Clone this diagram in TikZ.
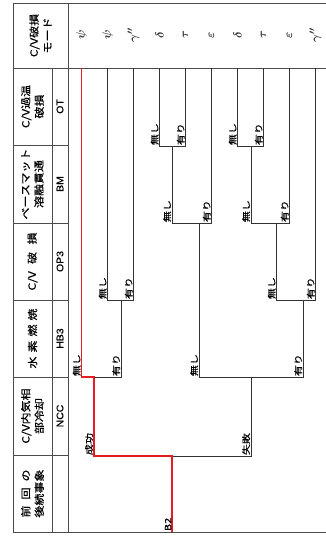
\documentclass[tikz,border=0pt]{standalone}
\usepackage{fontspec}
\setmainfont{Noto Sans CJK JP}
\newfontfamily\jp[FakeStretch=1.2,FakeBold=0.6]{Noto Sans CJK JP}
\newfontfamily\jplab[FakeStretch=1.3,FakeBold=0.4]{Noto Sans CJK JP}
\newfontfamily\lat[FakeStretch=1.1,FakeBold=0.5]{Liberation Sans}
\newcommand{\spreadtxt}[2]{\makebox[#1][s]{#2}}
\begin{document}
\begin{tikzpicture}[x=1pt,y=-1pt,
  grid/.style={draw=black!70, line width=1pt},
  tree/.style={draw=black!80, line width=0.8pt},
  redpath/.style={draw={rgb,255:red,228;green,28;blue,36}, line width=1.9pt, line join=miter},
  hdr/.style={rotate=90, font=\jp\fontsize{10}{13.5}\selectfont, align=center, inner sep=0pt},
  codetxt/.style={rotate=90, font=\lat\fontsize{9.5}{10}\selectfont, inner sep=0pt},
  lab/.style={rotate=90, anchor=south west, font=\jplab\fontsize{8.5}{8.5}\selectfont, inner sep=0.7pt},
  modetxt/.style={rotate=90, font=\boldmath\fontsize{13}{13}\selectfont, inner sep=0pt, text=black!80}]
\useasboundingbox (0,0) rectangle (326,539);
% table
\draw[grid] (326,3) -- (13,3) -- (13,532) -- (326,532);
\draw[grid] (68,3) -- (68,532);
\draw[grid] (13,68) -- (326,68);
\draw[grid] (52,68) -- (52,532);
\foreach \yy in {145,223,300,377,455} \draw[grid] (13,\yy) -- (68,\yy);
% headers
\node[hdr] (hMode) at (40.5,35.5) {C/V破損\\モード};
\node[hdr] (hOT) at (32.5,106.5) {C/V過温\\破損};
\node[hdr] (hBM) at (32.5,184) {ベースマット\\溶融貫通};
\node[hdr] (hOP) at (32.5,261.5) {\spreadtxt{58pt}{C/V\hfill 破\hfill 損}};
\node[hdr] (hHB) at (32.5,338.5) {\spreadtxt{60pt}{水\hfill 素\hfill 燃\hfill 焼}};
\node[hdr] (hNCC) at (32.5,416) {C/V内気相\\部冷却};
\node[hdr] (hPrev) at (32.5,493.5) {\spreadtxt{48pt}{前\hfill 回\hfill の}\\\spreadtxt{48pt}{後\hfill 続\hfill 事\hfill 象}};
\node[codetxt] (cOT) at (60,106.5) {OT};
\node[codetxt] (cBM) at (60,184) {BM};
\node[codetxt] (cOP) at (60,261.5) {OP3};
\node[codetxt] (cHB) at (60,338.5) {HB3};
\node[codetxt] (cNCC) at (60,416) {NCC};
% tree coordinates
\coordinate (b2) at (172,532);
\coordinate (ncc) at (172,456);
\coordinate (nccS) at (94,456);  \coordinate (nccF) at (251,456);
\coordinate (hbS) at (94,377);   \coordinate (hbSn) at (81.5,377);  \coordinate (hbSy) at (121,377);
\coordinate (hbF) at (251,377);  \coordinate (hbFn) at (199,377);   \coordinate (hbFy) at (303,377);
\coordinate (opA) at (121,300);  \coordinate (opAn) at (107.5,300); \coordinate (opAy) at (133.5,300);
\coordinate (opB) at (303,300);  \coordinate (opBn) at (276.5,300); \coordinate (opBy) at (315.5,300);
\coordinate (bmA) at (199,223);  \coordinate (bmAn) at (172,223);   \coordinate (bmAy) at (211.5,223);
\coordinate (bmB) at (276.5,223);\coordinate (bmBn) at (251,223);   \coordinate (bmBy) at (289.5,223);
\coordinate (otA) at (172,146);  \coordinate (otAn) at (159.5,146); \coordinate (otAy) at (185.5,146);
\coordinate (otB) at (251,146);  \coordinate (otBn) at (237.5,146); \coordinate (otBy) at (263.5,146);
\foreach \i/\xx in {1/81.5,2/107.5,3/133.5,4/159.5,5/185.5,6/211.5,7/237.5,8/263.5,9/289.5,10/315.5}
  \coordinate (l\i) at (\xx,68);
% tree
\draw[tree] (b2) -- (ncc);
\draw[tree] (hbS) -- (nccS) -- (nccF) -- (hbF);
\draw[tree] (l1) -- (hbSn) -- (hbSy) -- (opA);
\draw[tree] (bmA) -- (hbFn) -- (hbFy) -- (opB);
\draw[tree] (l2) -- (opAn) -- (opAy) -- (l3);
\draw[tree] (bmB) -- (opBn) -- (opBy) -- (l10);
\draw[tree] (otA) -- (bmAn) -- (bmAy) -- (l6);
\draw[tree] (otB) -- (bmBn) -- (bmBy) -- (l9);
\draw[tree] (l4) -- (otAn) -- (otAy) -- (l5);
\draw[tree] (l7) -- (otBn) -- (otBy) -- (l8);
\draw[redpath] (b2) -- (ncc) -- (nccS) -- (hbS) -- (hbSn) -- (l1);
% branch labels
\node[lab] (tB2) at (b2) {B2};
\node[lab] (tS) at (nccS) {成功};
\node[lab] (tF) at (nccF) {失敗};
\node[lab] (t1) at (hbSn) {無し};
\node[lab] (t2) at (hbSy) {有り};
\node[lab] (t3) at (hbFn) {無し};
\node[lab] (t4) at (hbFy) {有り};
\node[lab] (t5) at (opAn) {無し};
\node[lab] (t6) at (opAy) {有り};
\node[lab] (t7) at (opBn) {無し};
\node[lab] (t8) at (opBy) {有り};
\node[lab] (t9) at (bmAn) {無し};
\node[lab] (t10) at (bmAy) {有り};
\node[lab] (t11) at (bmBn) {無し};
\node[lab] (t12) at (bmBy) {有り};
\node[lab] (t13) at (otAn) {無し};
\node[lab] (t14) at (otAy) {有り};
\node[lab] (t15) at (otBn) {無し};
\node[lab] (t16) at (otBy) {有り};
% modes
\foreach \i/\xx/\m in {1/81.5/\psi,2/107.5/\psi,3/133.5/\gamma'',4/159.5/\delta,5/185.5/\tau,6/211.5/\varepsilon,7/237.5/\delta,8/263.5/\tau,9/289.5/\varepsilon,10/315.5/\gamma''}
  \node[modetxt] (m\i) at (\xx,35) {$\m$};
\end{tikzpicture}
\end{document}
